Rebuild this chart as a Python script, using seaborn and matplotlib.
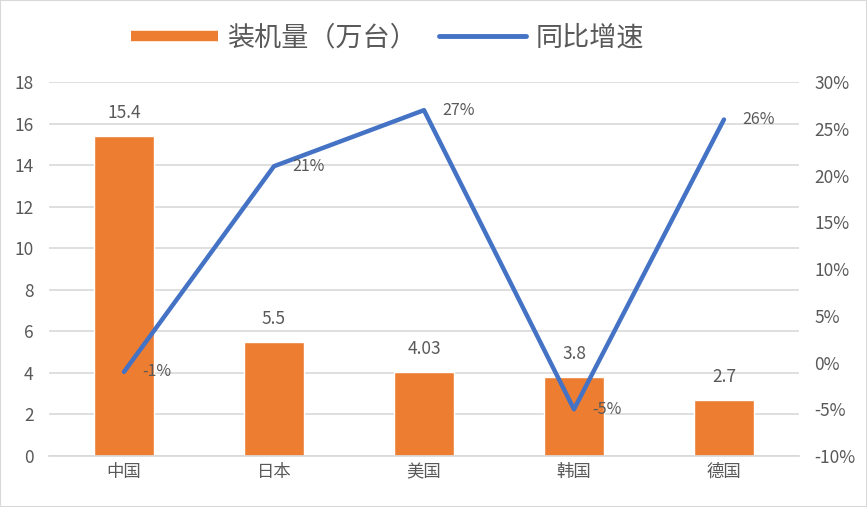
import numpy as np
import pandas as pd
import matplotlib.pyplot as plt
import seaborn as sns
from matplotlib.lines import Line2D
from matplotlib.ticker import FuncFormatter

countries = ['中国', '日本', '美国', '韩国', '德国']
installs = [15.4, 5.5, 4.03, 3.8, 2.7]
install_labels = ['15.4', '5.5', '4.03', '3.8', '2.7']
growth = [-1, 21, 27, -5, 26]

bar_color = '#ED7D31'
line_color = '#4472C4'
text_color = '#595959'

sns.set_theme(style='white')
plt.rcParams['font.family'] = ['Noto Sans CJK SC', 'DejaVu Sans']

df = pd.DataFrame({'country': countries, 'installs': installs, 'growth': growth})

fig = plt.figure(figsize=(8.67, 5.07), dpi=100)
fig.patches.append(plt.Rectangle((0, 0), 1, 1, transform=fig.transFigure,
                                 fill=False, edgecolor='#D9D9D9', linewidth=1.5))
ax = fig.add_axes([0.0565, 0.1006, 0.865, 0.7374])

# bars: installed units
sns.barplot(data=df, x='country', y='installs', color=bar_color, width=0.4,
            saturation=1, ax=ax, zorder=2)
ax.set_ylim(0, 18)
ax.set_yticks(np.arange(0, 19, 2))
ax.set_xlim(-0.5, 4.5)
ax.yaxis.grid(True, color='#D9D9D9', linewidth=1.2, zorder=0)
ax.set_axisbelow(True)
ax.set_xlabel('')
ax.set_ylabel('')
for s in ax.spines.values():
    s.set_visible(False)
ax.spines['bottom'].set_visible(True)
ax.spines['bottom'].set_color('#D9D9D9')
ax.tick_params(axis='both', colors=text_color, labelsize=12.5, length=0)
ax.tick_params(axis='y', pad=11)
ax.tick_params(axis='x', pad=5)

for i, (v, lab) in enumerate(zip(installs, install_labels)):
    ax.annotate(lab, (i, v), xytext=(0, 10), textcoords='offset points',
                ha='center', va='bottom', fontsize=12.5, color=text_color)

# line: year-on-year growth
ax2 = ax.twinx()
sns.lineplot(x=np.arange(len(countries)), y=growth, color=line_color,
             linewidth=3.2, ax=ax2, zorder=3)
ax2.set_ylim(-10, 30)
ax2.set_yticks(np.arange(-10, 31, 5))
ax2.yaxis.set_major_formatter(FuncFormatter(lambda v, p: f'{int(v)}%'))
ax2.set_xlim(-0.5, 4.5)
for s in ax2.spines.values():
    s.set_visible(False)
ax2.tick_params(axis='y', colors=text_color, labelsize=12.5, length=0, pad=11)

for i, g in enumerate(growth):
    ax2.annotate(f'{g}%', (i, g), xytext=(13, 0), textcoords='offset points',
                 ha='left', va='center', fontsize=11.5, color=text_color)

handles = [Line2D([], [], color=bar_color, linewidth=7.5, solid_capstyle='butt'),
           Line2D([], [], color=line_color, linewidth=3.5)]
fig.legend(handles, ['装机量（万台）', '同比增速'], loc='center',
           bbox_to_anchor=(0.447, 0.925), ncol=2, frameon=False, fontsize=19.5,
           handlelength=3.2, columnspacing=0.8, handletextpad=0.35,
           labelcolor=text_color)

fig.savefig('out.png', dpi=100)
